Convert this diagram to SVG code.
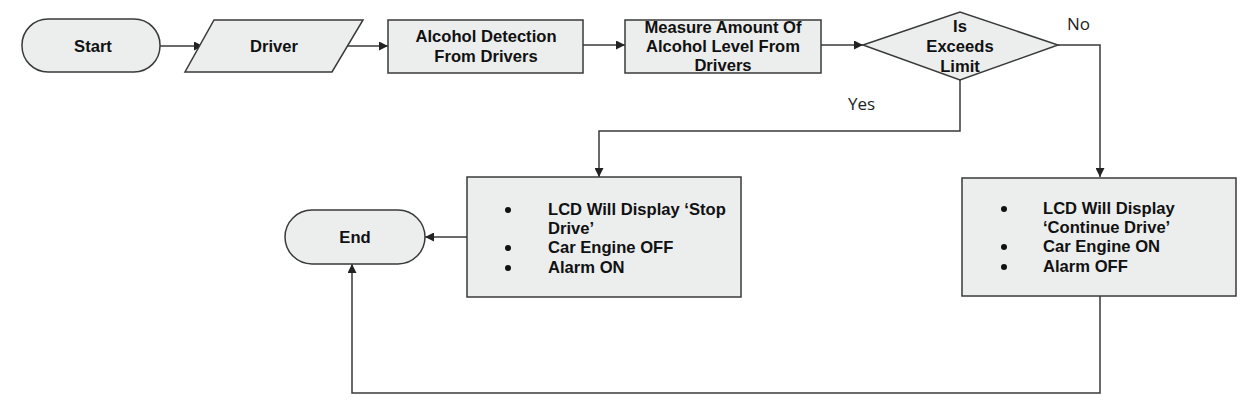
<svg xmlns="http://www.w3.org/2000/svg" width="1244" height="414" viewBox="0 0 1244 414">
<defs>
<marker id="arr" viewBox="0 0 10 10" refX="10" refY="5" markerWidth="11" markerHeight="9" markerUnits="userSpaceOnUse" orient="auto">
<path d="M0,0 L10,5 L0,10 z" fill="#222"/>
</marker>
<style>
.shape{fill:#eceeee;stroke:#3a3a3a;stroke-width:1.5}
.t{font-family:"Liberation Sans",Arial,sans-serif;font-weight:bold;font-size:16.6px;fill:#111}
.c{text-anchor:middle}
.lbl{font-family:"Open Sans","Liberation Sans",sans-serif;font-size:17px;fill:#222}
.ln{fill:none;stroke:#3a3a3a;stroke-width:1.5;marker-end:url(#arr)}
.dot{fill:#111}
</style>
</defs>
<rect width="1244" height="414" fill="#ffffff"/>
<g id="connectors">
<path class="ln" d="M160,46 L203,46"/>
<path class="ln" d="M347,46 L388,46"/>
<path class="ln" d="M583,45 L625,45"/>
<path class="ln" d="M821,45 L863,45"/>
<path class="ln" d="M1058,45 L1100,45 L1100,177"/>
<path class="ln" d="M960,80 L960,131 L599,131 L599,177"/>
<path class="ln" d="M467,237 L425,237"/>
<path class="ln" d="M1100,296 L1100,393 L352,393 L352,264"/>
<text class="lbl" x="1067" y="30">No</text>
<text class="lbl" x="848" y="110">Yes</text>
</g>
<g id="start">
<rect class="shape" x="22" y="19" width="138" height="53" rx="26" ry="26"/>
<text class="t c" x="93" y="52">Start</text>
</g>
<g id="driver">
<polygon class="shape" points="214,20 363,20 332,72 185,72"/>
<text class="t c" x="274" y="52">Driver</text>
</g>
<g id="detect">
<rect class="shape" x="388" y="20" width="195" height="53"/>
<text class="t c" x="486" y="42">Alcohol Detection</text>
<text class="t c" x="486" y="62">From Drivers</text>
</g>
<g id="measure">
<rect class="shape" x="625" y="20" width="196" height="53"/>
<text class="t c" x="723" y="33">Measure Amount Of</text>
<text class="t c" x="723" y="52">Alcohol Level From</text>
<text class="t c" x="723" y="71">Drivers</text>
</g>
<g id="decision">
<polygon class="shape" points="863,45 960,12 1058,45 960,80"/>
<text class="t c" x="960" y="32">Is</text>
<text class="t c" x="960" y="52">Exceeds</text>
<text class="t c" x="960" y="72">Limit</text>
</g>
<g id="stop">
<rect class="shape" x="467" y="177" width="274" height="120"/>
<circle class="dot" cx="508" cy="210" r="3"/>
<circle class="dot" cx="508" cy="248" r="3"/>
<circle class="dot" cx="508" cy="268" r="3"/>
<text class="t" x="548" y="215">LCD Will Display ‘Stop</text>
<text class="t" x="548" y="234">Drive’</text>
<text class="t" x="548" y="253">Car Engine OFF</text>
<text class="t" x="548" y="273">Alarm ON</text>
</g>
<g id="continue">
<rect class="shape" x="962" y="178" width="274" height="118"/>
<circle class="dot" cx="1004" cy="209" r="3"/>
<circle class="dot" cx="1004" cy="247" r="3"/>
<circle class="dot" cx="1004" cy="267" r="3"/>
<text class="t" x="1043" y="214">LCD Will Display</text>
<text class="t" x="1043" y="233">‘Continue Drive’</text>
<text class="t" x="1043" y="252">Car Engine ON</text>
<text class="t" x="1043" y="272">Alarm OFF</text>
</g>
<g id="end">
<rect class="shape" x="285" y="210" width="140" height="54" rx="27" ry="27"/>
<text class="t c" x="355" y="243">End</text>
</g>
</svg>
